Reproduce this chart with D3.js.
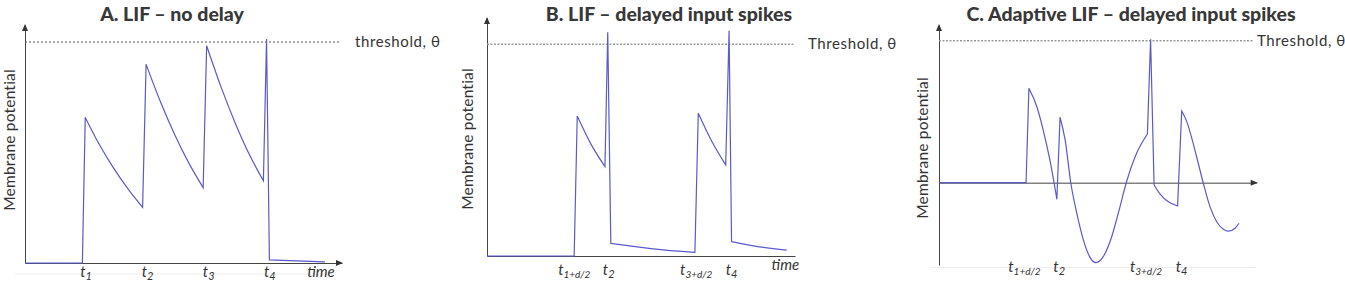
<!DOCTYPE html>
<html lang="en">
<head>
<meta charset="utf-8">
<title>LIF membrane potential</title>
<script src="https://cdn.jsdelivr.net/npm/d3@7"></script>
<style>
  body { margin: 0; background: white; }
  svg { display: block; }
  .title { font-family: Lato, "Open Sans", sans-serif; font-weight: 900; font-size: 19.5px; fill: #383838; }
  .ylab { font-family: Lato, "Open Sans", sans-serif; font-size: 15.5px; fill: #333; letter-spacing: 0.2px; }
  .thlab { font-family: Lato, "Open Sans", sans-serif; font-size: 15px; fill: #333; letter-spacing: 0.6px; }
  .tlab { font-family: Lato, "Open Sans", sans-serif; font-style: italic; font-size: 15px; fill: #333; }
  .axis path { stroke: #444; stroke-width: 1; }
  .trace { fill: none; stroke: #5a5acd; stroke-width: 1.2; }
</style>
</head>
<body>
<script>
// membrane potential traces, time 0..100, potential (threshold = 1)
// each segment is smooth, jumps between segments are straight
var traceA = [
  [[0, 0], [18.1, 0]],
  [[19.0, 0.659], [23.5, 0.535], [28.0, 0.428], [32.6, 0.333], [37.1, 0.252]],
  [[38.2, 0.899], [42.7, 0.731], [47.2, 0.582], [51.7, 0.452], [56.2, 0.341]],
  [[57.3, 0.983], [61.8, 0.798], [66.3, 0.634], [70.7, 0.493], [75.2, 0.372]],
  [[76.2, 1.014], [77.1, 0.014]],
  [[77.1, 0.014], [94.6, 0.005]]
];
var traceB = [
  [[0, 0], [28.3, 0]],
  [[29.3, 0.661], [33.8, 0.527], [38.3, 0.422]],
  [[39.2, 1.057], [40.2, 0.060]],
  [[40.2, 0.060], [53.9, 0.034], [67.5, 0.017]],
  [[68.6, 0.674], [73.1, 0.538], [77.5, 0.430]],
  [[78.6, 1.064], [79.4, 0.068]],
  [[79.4, 0.068], [87.0, 0.047], [97.3, 0.028]]
];
var traceC = [
  [[0, 0], [27.4, 0]],
  [[28.3, 0.665], [30.8, 0.535], [32.8, 0.371], [34.9, 0.160], [37.1, -0.117]],
  [[38.1, 0.461], [39.7, 0.301], [41.5, -0.004], [43.4, -0.218], [45.4, -0.399], [47.4, -0.521],
   [49.4, -0.563], [51.7, -0.521], [54.1, -0.399], [56.4, -0.218], [58.9, -0.004], [62.2, 0.207],
   [65.6, 0.343]],
  [[66.6, 1.010], [67.7, -0.016]],
  [[67.7, -0.016], [69.6, -0.080], [72.2, -0.134], [75.1, -0.164]],
  [[76.4, 0.505], [78.0, 0.430], [80.0, 0.277], [81.6, 0.137], [83.2, -0.004], [85.3, -0.169],
   [87.4, -0.275], [89.5, -0.328], [91.1, -0.342], [93.2, -0.321], [94.4, -0.286]]
];

// time labels under the axis
var ticksA = [17.4, 36.8, 56.1, 75.4];
var subsA = ["1", "2", "3", "4"];
var ticksB = [23.1, 37.6, 62.7, 77.5];
var subsB = ["1+d/2", "2", "3+d/2", "4"];
var ticksC = [21.8, 36.0, 60.1, 74.5];
var subsC = ["1+d/2", "2", "3+d/2", "4"];

var titles = ["A. LIF \u2013 no delay", "B. LIF \u2013 delayed input spikes", "C. Adaptive LIF \u2013 delayed input spikes"];
var thLabels = ["threshold, \u03b8", "Threshold, \u03b8", "Threshold, \u03b8"];

var svg = d3.select("body").append("svg")
  .attr("width", 1345).attr("height", 283);

var panels = [
  {trace: traceA, ticks: ticksA, subs: subsA, title: titles[0], th: thLabels[0],
   xr: [25, 342], yd: [0, 1.077], yr: [263, 25], thEnd: 340, xArrow: true,
   titleX: 172, ylabX: 15, ylabY: 140, thX: 355, timeX: 89.0, timeY: 277, tickY: 277,
   thColor: "#555", thDash: "2,2", thW: 1},
  {trace: traceB, ticks: ticksB, subs: subsB, title: titles[1], th: thLabels[1],
   xr: [487, 795], yd: [0, 1.124], yr: [256, 18], thEnd: 795, xArrow: false,
   titleX: 669, ylabX: 473, ylabY: 139, thX: 808, timeX: 92.4, timeY: 270, tickY: 275,
   thColor: "#999", thDash: "2,1.5", thW: 1.5},
  {trace: traceC, ticks: ticksC, subs: subsC, title: titles[2], th: thLabels[2],
   xr: [939, 1256.7], yd: [-0.58, 1.111], yr: [265, 25], thEnd: 1253, xArrow: true,
   titleX: 1131, ylabX: 928, ylabY: 148, thX: 1257, timeX: null, timeY: 0, tickY: 272,
   thColor: "#999", thDash: "2,1.5", thW: 1.5}
];

// faint scan lines under the labels
svg.append("line").attr("x1", 15).attr("x2", 333).attr("y1", 274).attr("y2", 274)
  .attr("stroke", "#eee");
svg.append("line").attr("x1", 930).attr("x2", 1255).attr("y1", 267.5).attr("y2", 267.5)
  .attr("stroke", "#eee");

panels.forEach(function(p) {
  var x = d3.scaleLinear().domain([0, 100]).range(p.xr);
  var y = d3.scaleLinear().domain(p.yd).range(p.yr);
  var g = svg.append("g");

  // axes
  g.append("g").attr("class", "axis")
    .attr("transform", "translate(" + x(0) + ",0)")
    .call(d3.axisLeft(y).tickValues([]).tickSizeOuter(0));
  g.append("g").attr("class", "axis")
    .attr("transform", "translate(0," + y(0) + ")")
    .call(d3.axisBottom(x).tickValues([]).tickSizeOuter(0));

  // arrow heads
  var yt = p.yr[1];
  g.append("path").attr("fill", "#333")
    .attr("d", "M" + x(0) + "," + (yt - 1) + "l-3,7h6z");
  if (p.xArrow) {
    g.append("path").attr("fill", "#333")
      .attr("d", "M" + (p.xr[1] + 1) + "," + y(0) + "l-7,-3v6z");
  }

  // threshold
  g.append("line")
    .attr("x1", x(0)).attr("x2", p.thEnd)
    .attr("y1", y(1)).attr("y2", y(1))
    .attr("stroke", p.thColor).attr("stroke-width", p.thW)
    .attr("stroke-dasharray", p.thDash);
  g.append("text").attr("class", "thlab")
    .attr("x", p.thX).attr("y", y(1) + 5)
    .text(p.th);

  // trace
  var line = d3.line()
    .x(function(d) { return x(d[0]); })
    .y(function(d) { return y(d[1]); })
    .curve(d3.curveMonotoneX);
  var dstr = p.trace.map(function(seg, i) {
    var s = line(seg);
    return i > 0 ? "L" + s.slice(1) : s;
  }).join("");
  g.append("path").attr("class", "trace").attr("d", dstr);

  // title
  g.append("text").attr("class", "title")
    .attr("x", p.titleX).attr("y", 21)
    .attr("text-anchor", "middle")
    .text(p.title);

  // y label
  g.append("text").attr("class", "ylab")
    .attr("transform", "translate(" + p.ylabX + "," + p.ylabY + ") rotate(-90)")
    .attr("text-anchor", "middle")
    .text("Membrane potential");

  // time labels
  p.ticks.forEach(function(t, i) {
    var tx = g.append("text").attr("class", "tlab")
      .attr("x", x(t)).attr("y", p.tickY);
    tx.append("tspan").text("t");
    tx.append("tspan").attr("dy", 3).attr("font-size", p.subs[i].length > 1 ? 10 : 11)
      .text(p.subs[i]);
  });
  if (p.timeX !== null) {
    g.append("text").attr("class", "tlab")
      .attr("x", x(p.timeX)).attr("y", p.timeY)
      .text("time");
  }
});
</script>
</body>
</html>
